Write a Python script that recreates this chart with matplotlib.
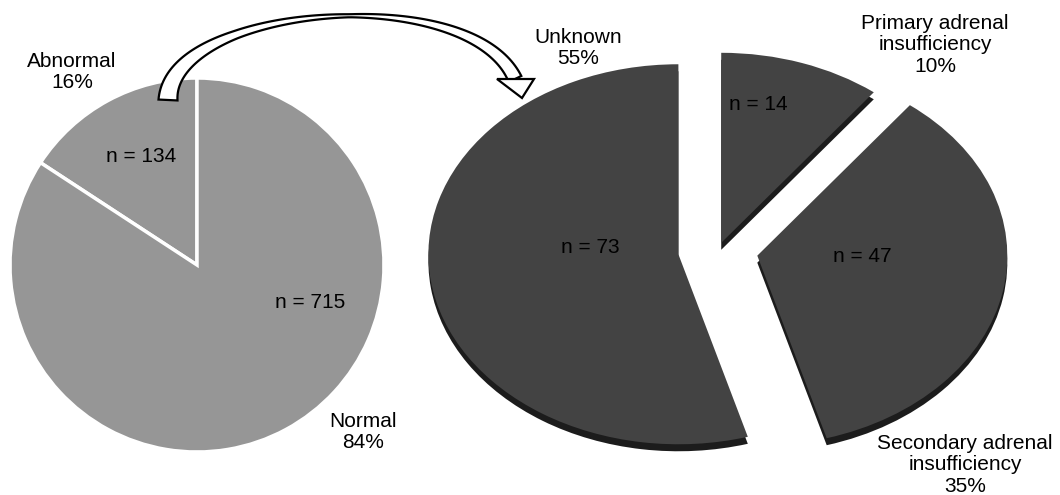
import numpy as np
import matplotlib.pyplot as plt
from matplotlib.path import Path
from matplotlib.patches import PathPatch, Polygon

plt.rcParams["font.family"] = ["Liberation Sans", "DejaVu Sans"]

# ----------------------------
# Data
# ----------------------------
screen_labels = ["Abnormal", "Normal"]
screen_counts = [134, 715]
screen_pct = [16, 84]

# clockwise from 12 o'clock
cause_labels = ["Primary adrenal\ninsufficiency", "Secondary adrenal\ninsufficiency", "Unknown"]
cause_counts = [14, 47, 73]
cause_pct = [10, 35, 55]
cause_explode = [0.04, 0.16, 0.16]   # fraction of the radius

W, H = 1060, 495
FS = 15

LIGHT_GREY = "#969696"
DARK_TOP = "#434343"
DARK_SIDE = "#1c1c1c"


def flip(y):
    """Image-style y (top = 0) -> axes y (bottom = 0)."""
    return H - y


fig = plt.figure(figsize=(W / 100, H / 100), dpi=100)
fig.patch.set_facecolor("white")

# ----------------------------
# Left pie: flat, light grey
# ----------------------------
ax = fig.add_axes([0, 0, 1, 1])
ax.pie(
    screen_counts,
    colors=[LIGHT_GREY, LIGHT_GREY],
    startangle=90,
    counterclock=True,
    center=(197, flip(265)),
    radius=187,
    wedgeprops=dict(edgecolor="white", linewidth=2.5),
)
ax.set_aspect("auto")
ax.set_xlim(0, W)
ax.set_ylim(0, H)
ax.set_axis_off()

ax.text(72, flip(72), f"{screen_labels[0]}\n{screen_pct[0]}%", ha="center", va="center",
        fontsize=FS, linespacing=1.15)
ax.text(141, flip(157), f"n = {screen_counts[0]}", ha="center", va="center", fontsize=FS)
ax.text(310, flip(303), f"n = {screen_counts[1]}", ha="center", va="center", fontsize=FS)
ax.text(363, flip(432), f"{screen_labels[1]}\n{screen_pct[1]}%", ha="center", va="center",
        fontsize=FS, linespacing=1.15)

# ----------------------------
# Right pie: exploded, tilted, with a dark rim for depth
# ----------------------------
k = 0.76          # vertical squash of the tilted disc
depth = 7         # rim thickness in pixels
ax2 = fig.add_axes([0, 0, 1, 1])
ax2.patch.set_alpha(0)
cx, cy, r = 718, flip(250) / k, 250
explode = [e * r for e in cause_explode]

# rim first, shifted down, then the top face
ax2.pie(cause_counts, colors=[DARK_SIDE] * 3, startangle=90, counterclock=False,
        explode=explode, center=(cx, cy - depth / k), radius=r,
        wedgeprops=dict(linewidth=0))
ax2.pie(cause_counts, colors=[DARK_TOP] * 3, startangle=90, counterclock=False,
        explode=explode, center=(cx, cy), radius=r,
        wedgeprops=dict(linewidth=0))
ax2.set_aspect("auto")
ax2.set_xlim(0, W)
ax2.set_ylim(0, H / k)
ax2.set_axis_off()

label_pos = [(935, 45), (965, 465), (578, 48)]
count_pos = [(758, 105), (862, 256), (590, 248)]
for (x, y), lab, p in zip(label_pos, cause_labels, cause_pct):
    ax.text(x, flip(y), f"{lab}\n{p}%", ha="center", va="center",
            fontsize=FS, linespacing=1.15, zorder=10)
for (x, y), n in zip(count_pos, cause_counts):
    ax2.text(x, flip(y) / k, f"n = {n}", ha="center", va="center", fontsize=FS, color="black")

# ----------------------------
# Curved ribbon arrow linking the two pies
# ----------------------------
P0 = np.array([168, 100.0])
P1 = np.array([170, 5.0])
P2 = np.array([470, -20.0])
P3 = np.array([515, 79.0])
t = np.linspace(0, 1, 120)[:, None]
pts = (1 - t) ** 3 * P0 + 3 * (1 - t) ** 2 * t * P1 + 3 * (1 - t) * t ** 2 * P2 + t ** 3 * P3
d = np.gradient(pts, axis=0)
d /= np.linalg.norm(d, axis=1)[:, None]
nrm = np.column_stack([-d[:, 1], d[:, 0]])
width = np.interp(t[:, 0], [0, 0.3, 0.55, 0.8, 1.0], [19, 8, 3, 9, 14])
left = pts + nrm * width[:, None] / 2
right = pts - nrm * width[:, None] / 2
ribbon = np.vstack([left, right[::-1], left[:1]])
ribbon[:, 1] = flip(ribbon[:, 1])
codes = [Path.MOVETO] + [Path.LINETO] * (len(ribbon) - 2) + [Path.CLOSEPOLY]
ax2.add_patch(PathPatch(Path(ribbon * [1, 1 / k], codes), facecolor="white",
                        edgecolor="black", linewidth=1.6, zorder=20))
head = np.array([[497, 79], [534, 79], [522, 98]], dtype=float)
head[:, 1] = flip(head[:, 1]) / k
ax2.add_patch(Polygon(head, closed=True, facecolor="white", edgecolor="black",
                      linewidth=1.6, zorder=21))

fig.savefig("out.png", dpi=100, facecolor="white")
